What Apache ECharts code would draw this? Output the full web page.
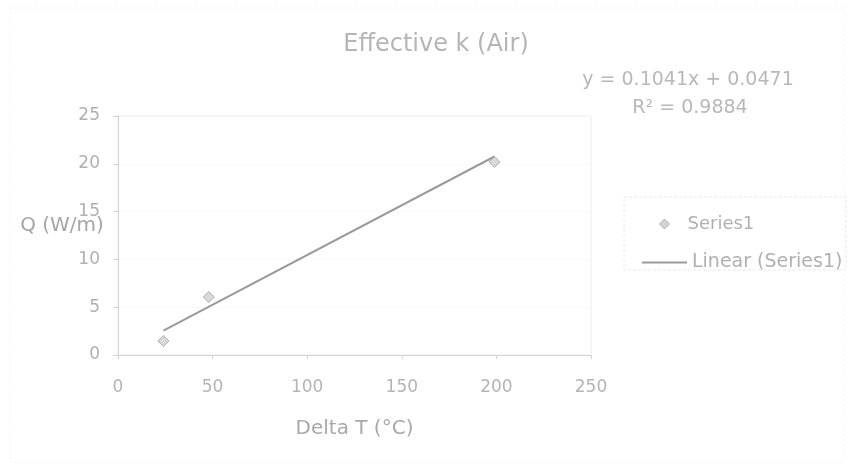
<!DOCTYPE html>
<html>
<head>
<meta charset="utf-8">
<script src="https://cdn.jsdelivr.net/npm/echarts@6/dist/echarts.min.js"></script>
<style>
  html, body { margin: 0; padding: 0; background: #fff; }
  #chart { width: 851px; height: 468px; }
</style>
</head>
<body>
<div id="chart"></div>
<script>
// Measured points: temperature difference vs. heat flow per metre
const deltaT = [24, 48, 199];
const heatFlow = [1.46, 6.07, 20.2];

// Linear trendline coefficients and fit quality
const slope = 0.1041;
const intercept = 0.0471;
const rSquared = 0.9884;

const xTicks = [0, 50, 100, 150, 200, 250];
const yTicks = [0, 5, 10, 15, 20, 25];

const chartTitle = 'Effective k (Air)';
const xTitle = 'Delta T (°C)';
const yTitle = 'Q (W/m)';
const seriesName = 'Series1';
const trendName = 'Linear (Series1)';

const points = deltaT.map((x, i) => [x, heatFlow[i]]);
const xLo = Math.min(...deltaT);
const xHi = Math.max(...deltaT);
const trend = [xLo, xHi].map(x => [x, slope * x + intercept]);

const font = 'DejaVu Sans, Verdana, sans-serif';
const labelGray = '#adadad';

function label(text, x, y, size, color) {
  return {
    type: 'text', x: x, y: y, silent: true,
    style: {
      text: text, fontFamily: font, fontSize: size, fill: color,
      align: 'center', verticalAlign: 'middle'
    }
  };
}

const chart = echarts.init(document.getElementById('chart'));
chart.setOption({
  backgroundColor: '#fff',
  animation: false,
  textStyle: { fontFamily: font, color: labelGray },
  graphic: [
    // chart-area frame
    {
      type: 'rect', silent: true, z: -1,
      shape: { x: 10, y: 8, width: 834, height: 454 },
      style: { fill: 'none', stroke: '#f2f2f2', lineWidth: 1, lineDash: [2, 3] }
    },
    // legend frame
    {
      type: 'rect', silent: true,
      shape: { x: 624, y: 197, width: 222, height: 73 },
      style: { fill: 'none', stroke: '#e8e8e8', lineWidth: 1, lineDash: [3, 2] }
    },
    label(chartTitle, 436, 45, 24, '#b5b5b5'),
    label('y = ' + slope.toFixed(4) + 'x + ' + intercept.toFixed(4), 688, 80, 19, '#b8b8b8'),
    label('R² = ' + rSquared.toFixed(4), 690, 108, 19, '#b8b8b8'),
    label(yTitle, 62, 226, 20, '#a5a5a5')
  ],
  legend: [
    {
      orient: 'vertical', left: 654, top: 210,
      itemWidth: 10, itemHeight: 10,
      textStyle: { fontSize: 18, color: '#b0b0b0', fontFamily: font, padding: [0, 0, 0, 13] },
      data: [{ name: seriesName, icon: 'diamond', itemStyle: { color: '#c8c8c8', borderColor: '#a8a8a8', borderWidth: 1 } }]
    },
    {
      orient: 'vertical', left: 637, top: 248,
      itemWidth: 45, itemHeight: 2,
      textStyle: { fontSize: 19, color: '#b0b0b0', fontFamily: font },
      data: [{ name: trendName, icon: 'rect', itemStyle: { color: '#9a9a9a' } }]
    }
  ],
  grid: { left: 118, right: 260, top: 116, bottom: 113, show: true, borderColor: '#ececec', borderWidth: 1 },
  xAxis: {
    type: 'value', min: xTicks[0], max: xTicks[xTicks.length - 1], interval: 50,
    name: xTitle, nameLocation: 'middle', nameGap: 64,
    nameTextStyle: { fontSize: 20, color: '#a8a8a8', fontFamily: font },
    axisLine: { show: true, lineStyle: { color: '#d4d4d4' } },
    axisTick: { show: true, length: 4, lineStyle: { color: '#d4d4d4' } },
    axisLabel: { fontSize: 17, color: '#b4b4b4', margin: 24, fontFamily: font },
    splitLine: { show: false }
  },
  yAxis: {
    type: 'value', min: yTicks[0], max: yTicks[yTicks.length - 1], interval: 5,
    axisLine: { show: true, lineStyle: { color: '#d4d4d4' } },
    axisTick: { show: true, length: 5, lineStyle: { color: '#d4d4d4' } },
    axisLabel: { fontSize: 17, color: '#b0b0b0', margin: 18, fontFamily: font },
    splitLine: { show: true, lineStyle: { color: '#f2f2f2', type: 'dotted' } }
  },
  series: [
    {
      name: trendName, type: 'line', data: trend,
      symbol: 'none', z: 2,
      lineStyle: { color: '#9a9a9a', width: 2 },
      itemStyle: { color: '#9a9a9a' }
    },
    {
      name: seriesName, type: 'scatter', data: points,
      symbol: 'diamond', symbolSize: 11, z: 3,
      itemStyle: { color: '#d0d0d0', borderColor: '#a0a0a0', borderWidth: 1 }
    }
  ]
});
</script>
</body>
</html>
